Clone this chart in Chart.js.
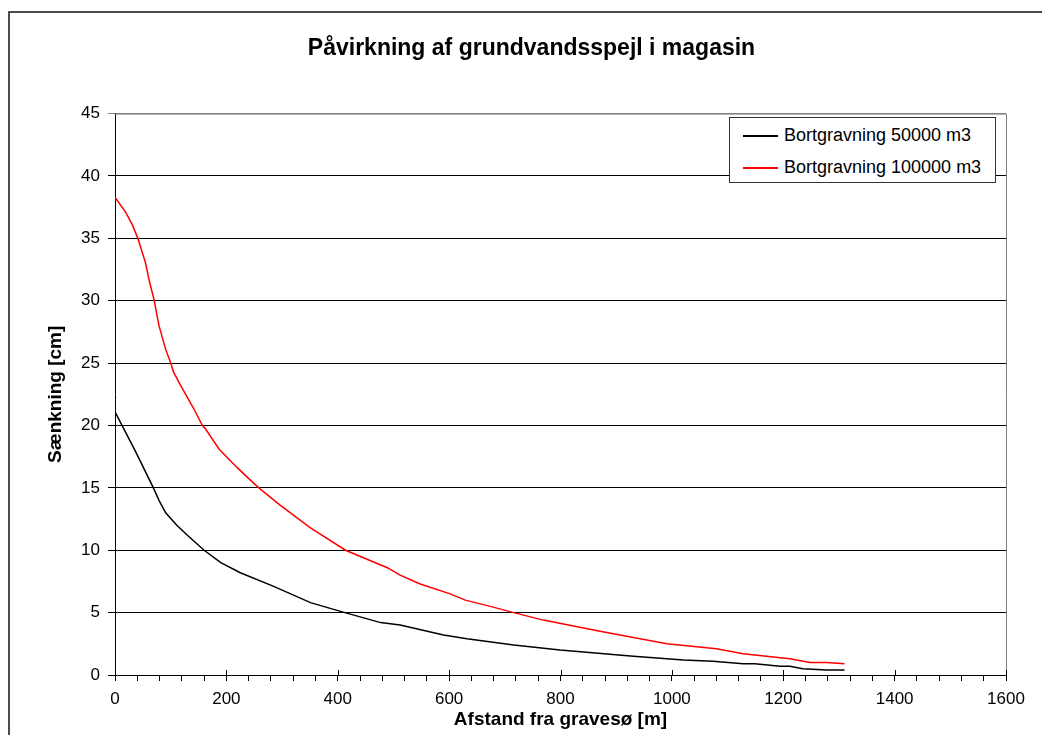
<!DOCTYPE html>
<html>
<head>
<meta charset="utf-8">
<script src="https://cdn.jsdelivr.net/npm/chart.js@4"></script>
<style>
  body { margin: 0; background: #fff; }
  #wrap { position: relative; width: 1042px; height: 735px; }
  #legend {
    position: absolute; left: 729px; top: 117px; width: 265px; height: 64px;
    border: 1px solid #333; background: #fff;
    font-family: 'Liberation Sans', Arial, sans-serif; font-size: 18px; color: #000;
  }
  #legend div { position: absolute; left: 0; height: 22px; line-height: 22px; white-space: nowrap; }
  #legend span.ln { position: absolute; left: 13px; top: 11px; width: 35px; height: 2px; }
  #legend span.tx { position: absolute; left: 54px; top: 0; }
</style>
</head>
<body>
<div id="wrap">
  <canvas id="chart" width="1042" height="735"></canvas>
  <div id="legend"></div>
</div>
<script>
var title = 'Påvirkning af grundvandsspejl i magasin';
var xTitle = 'Afstand fra gravesø [m]';
var yTitle = 'Sænkning [cm]';
var seriesNames = ['Bortgravning 50000 m3', 'Bortgravning 100000 m3'];
var seriesColors = ['#000000', '#ff0000'];

// afstand [m] og sænkning [cm]
var distBlack = [0, 37, 70, 79, 91, 111, 130, 160, 190, 225, 285, 351, 405, 477, 512, 590, 632, 716, 799, 931, 1021, 1074, 1128, 1149, 1194, 1212, 1235, 1278, 1310];
var valBlack  = [21.1, 17.9, 14.9, 14.0, 13.0, 12.0, 11.2, 10.0, 9.0, 8.2, 7.1, 5.8, 5.1, 4.2, 4.0, 3.2, 2.9, 2.4, 2.0, 1.5, 1.2, 1.1, 0.9, 0.9, 0.7, 0.7, 0.5, 0.4, 0.4];

var distRed = [0, 19, 31, 41, 55, 61, 70, 79, 91, 100, 105, 118, 132, 142, 157, 163, 187, 220, 246, 261, 297, 351, 414, 489, 512, 548, 602, 629, 674, 716, 769, 871, 991, 1080, 1128, 1212, 1248, 1278, 1310];
var valRed  = [38.3, 37.1, 36.1, 35.0, 33.0, 31.7, 30.1, 28.0, 26.1, 25.0, 24.3, 23.2, 22.1, 21.3, 20.0, 19.7, 18.1, 16.6, 15.5, 14.9, 13.6, 11.8, 10.0, 8.6, 8.0, 7.3, 6.5, 6.0, 5.5, 5.0, 4.4, 3.5, 2.5, 2.1, 1.7, 1.3, 1.0, 1.0, 0.9];

function pairs(xs, ys) {
  return xs.map(function (x, i) { return { x: x, y: ys[i] }; });
}

Chart.defaults.font.family = "'Liberation Sans', Arial, sans-serif";
Chart.defaults.color = '#000';

// ramme, kant om plotområde og store x-streger
var framePlugin = {
  id: 'frame',
  beforeDraw: function (chart) {
    var c = chart.ctx;
    c.save();
    c.strokeStyle = '#111';
    c.lineWidth = 1.5;
    c.beginPath();
    c.moveTo(9, 735);
    c.lineTo(9, 12);
    c.lineTo(1042, 12);
    c.stroke();
    c.restore();
  },
  afterDraw: function (chart) {
    var c = chart.ctx, a = chart.chartArea, xs = chart.scales.x;
    c.save();
    c.strokeStyle = '#808080';
    c.lineWidth = 1;
    c.beginPath();
    c.moveTo(a.left, a.top + 0.5);
    c.lineTo(a.right + 0.5, a.top + 0.5);
    c.lineTo(a.right + 0.5, a.bottom);
    c.stroke();
    c.strokeStyle = '#000';
    c.beginPath();
    for (var v = 0; v <= 1600; v += 200) {
      var px = Math.round(xs.getPixelForValue(v)) + 0.5;
      c.moveTo(px, a.bottom - 5);
      c.lineTo(px, a.bottom);
    }
    c.stroke();
    c.restore();
  }
};

var ctx = document.getElementById('chart').getContext('2d');
new Chart(ctx, {
  type: 'line',
  data: {
    datasets: [
      { label: seriesNames[0], data: pairs(distBlack, valBlack), borderColor: seriesColors[0], borderWidth: 1.5, pointRadius: 0, tension: 0 },
      { label: seriesNames[1], data: pairs(distRed, valRed), borderColor: seriesColors[1], borderWidth: 1.5, pointRadius: 0, tension: 0 }
    ]
  },
  options: {
    responsive: false,
    animation: false,
    layout: { padding: { left: 21, right: 0, top: 0, bottom: 0 } },
    plugins: {
      legend: { display: false },
      tooltip: { enabled: false },
      title: {
        display: true,
        text: title,
        font: { size: 23, weight: 'bold' },
        padding: { top: 35, bottom: 51 }
      }
    },
    scales: {
      x: {
        type: 'linear',
        min: 0,
        max: 1600,
        afterFit: function (s) { s.height = 60; s.paddingRight = 36; s.paddingLeft = 0; },
        ticks: {
          stepSize: 40,
          autoSkip: false,
          maxRotation: 0,
          padding: 8,
          font: { size: 17 },
          callback: function (v) { return v % 200 === 0 ? v : ''; }
        },
        grid: { drawOnChartArea: false, tickLength: 6, color: '#000' },
        border: { color: '#000' },
        title: { display: true, text: xTitle, font: { size: 19, weight: 'bold' }, padding: { top: 0, bottom: 4 } }
      },
      y: {
        min: 0,
        max: 45,
        afterFit: function (s) { s.width = 94; },
        ticks: { stepSize: 5, padding: 8, font: { size: 17 } },
        grid: {
          tickLength: 7,
          color: function (c) { return c.tick && c.tick.value === 45 ? '#808080' : '#000'; }
        },
        border: { color: '#000' },
        title: { display: true, text: yTitle, font: { size: 19, weight: 'bold' }, padding: { top: 23, bottom: 0 } }
      }
    }
  },
  plugins: [framePlugin]
});

var legendBox = document.getElementById('legend');
seriesNames.forEach(function (name, i) {
  var row = document.createElement('div');
  row.style.top = (i === 0 ? 6 : 38) + 'px';
  row.style.width = '100%';
  row.innerHTML = '<span class="ln"></span><span class="tx"></span>';
  row.querySelector('.ln').style.backgroundColor = seriesColors[i];
  row.querySelector('.tx').textContent = name;
  legendBox.appendChild(row);
});
</script>
</body>
</html>
